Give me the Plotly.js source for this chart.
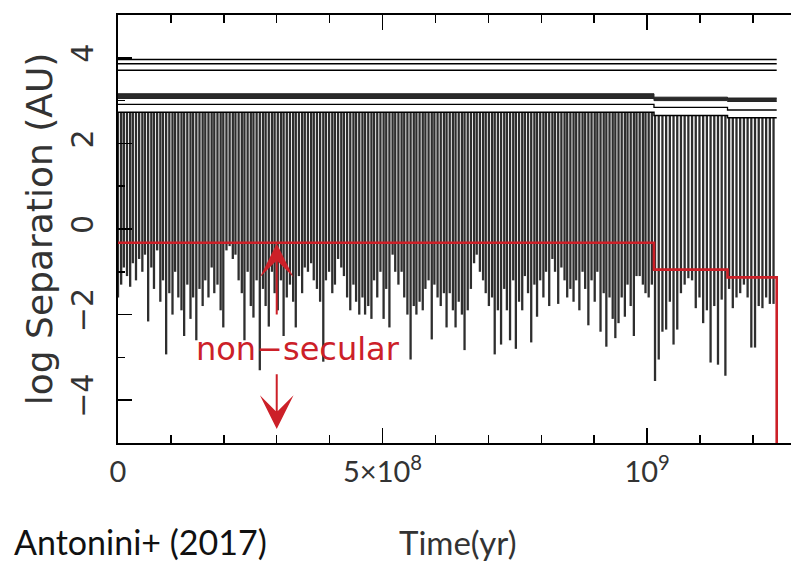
<!DOCTYPE html>
<html>
<head>
<meta charset="utf-8">
<script src="https://cdn.plot.ly/plotly-3.0.1.min.js"></script>
<style>html,body{margin:0;padding:0;background:#fff;}#chart{width:791px;height:564px;}</style>
</head>
<body>
<div id="chart"></div>
<script>
// ---- data (times in Myr, separations in log AU) ----
const spikeTimesMyr = [
0,6,11,17,23,28,34,40,46,51,57,63,68,74,80,85,91,97,103,108,
114,120,125,131,137,142,148,154,160,165,171,177,182,188,194,199,205,211,217,222,
228,234,239,245,251,256,262,268,274,279,285,291,296,302,308,313,319,325,331,336,
342,348,353,359,365,370,376,382,388,393,399,405,410,416,422,427,433,439,445,450,
456,462,467,473,479,484,490,496,502,507,513,519,524,530,536,541,547,553,559,564,
570,576,581,587,593,598,604,610,616,621,627,633,638,644,650,655,661,667,673,678,
684,690,695,701,707,712,718,724,730,735,741,747,752,758,764,769,775,781,787,792,
798,804,809,815,821,826,832,838,844,849,855,861,866,872,878,883,889,895,901,906,
912,918,923,929,935,940,946,952,958,963,969,975,980,986,992,997,1003,1009,
1015,1022,1029,1036,1043,1050,1057,1064,1071,1078,1085,1092,1099,1106,1113,1120,1127,1134,1141,1148,
1155,1162,1169,1176,1183,1190,1197,1204,1211,1218,1225,1232,1239
];
const spikeMin = [
-1.6,-1.3,-0.9,-1.1,-1.35,-0.8,-1.2,-0.7,-1.0,-0.6,-2.16,-0.9,-1.4,-0.5,-1.7,-1.2,-2.93,-1.5,-2.0,-1.0,
-1.6,-1.9,-2.5,-1.3,-2.1,-1.6,-2.6,-1.4,-1.8,-1.2,-1.6,-0.9,-1.5,-1.3,-1.9,-2.3,-0.5,-0.4,-0.7,-0.6,
-1.2,-1.5,-2.6,-1.0,-1.8,-2.07,-1.2,-3.3,-1.4,-1.8,-2.28,-1.0,-1.5,-1.9,-1.2,-2.5,-1.6,-1.3,-1.7,-2.3,
-1.1,-1.5,-0.9,-1.0,-0.8,-1.2,-1.4,-1.7,-3.1,-1.2,-1.0,-1.5,-1.3,-0.7,-0.9,-1.1,-1.6,-1.9,-1.3,-1.7,
-2.0,-1.6,-2.0,-1.8,-2.1,-1.2,-1.6,-1.0,-2.1,-1.4,-2.3,-0.6,-1.0,-1.3,-1.0,-1.6,-2.0,-3.05,-1.8,-2.0,
-1.7,-1.9,-1.4,-1.2,-2.58,-1.3,-1.6,-1.8,-1.5,-2.3,-1.5,-1.9,-2.3,-1.7,-2.0,-2.83,-1.9,-1.4,-0.8,-0.6,
-1.0,-1.2,-1.5,-1.8,-1.6,-2.93,-1.9,-2.7,-1.4,-1.9,-2.6,-1.2,-2.8,-1.7,-1.9,-1.1,-1.5,-2.65,-1.3,-2.05,
-1.2,-1.6,-1.0,-1.8,-0.7,-1.0,-1.75,-0.9,-1.2,-1.6,-1.4,-1.7,-1.2,-1.9,-1.0,-1.4,-2.25,-1.2,-1.7,-1.0,
-2.4,-1.5,-2.75,-1.6,-2.1,-2.55,-2.2,-1.6,-2.05,-1.3,-1.8,-2.5,-1.1,-1.1,-1.3,-1.5,-1.6,-1.3,
-3.55,-3.05,-2.4,-2.35,-1.7,-2.7,-2.35,-1.5,-1.3,-1.15,-1.2,-1.85,-1.6,-2.2,-1.9,-3.12,-1.8,-3.17,-1.65,-3.43,
-1.4,-1.85,-1.6,-1.5,-1.3,-1.6,-2.77,-2.77,-1.8,-1.85,-1.6,-1.75,-1.75
];
// phase boundaries (Myr) and per-phase levels
const phaseTimesMyr = [0, 1013, 1152, 1245];
const innerApo      = [2.73, 2.65, 2.60, 2.60];
const outerLine     = [2.91, 2.84, 2.78, 2.78];
const outerBandTop  = [3.16, 3.08, 3.06, 3.06];
const outerBandBot  = [3.05, 3.00, 2.98, 2.98];
const farLevels     = [3.96, 3.86, 3.71];
const farEndMyr     = 1245;
// non-secular threshold (red step)
const limitTimesMyr = [0, 1013, 1152, 1245, 1245];
const limitY        = [-0.32, -0.95, -1.13, -1.13, -5];
// tick labels
const xTickVals = [0, 5e8, 1e9];
const xTickText = ['0', '5×10<sup>8</sup>', '10<sup>9</sup>'];
const yTickVals = [-4, -2, 0, 2, 4];
const yTickText = ['−4', '−2', '0', '2', '4'];

const MYR = 1e6;
function topAt(t) {
  let v = innerApo[0];
  for (let i = 0; i < phaseTimesMyr.length; i++) if (t >= phaseTimesMyr[i]) v = innerApo[i];
  return v;
}
const sx = [], sy = [];
spikeTimesMyr.forEach((t, i) => {
  sx.push(t * MYR, t * MYR, null);
  sy.push(topAt(t), spikeMin[i], null);
});
const px = phaseTimesMyr.map(t => t * MYR);

const traces = [
  {x: sx, y: sy, mode: 'lines', line: {color: '#2e2e2e', width: 2.3}, hoverinfo: 'skip', connectgaps: false},
  {x: px, y: innerApo, mode: 'lines', line: {color: '#000', width: 1.5, shape: 'hv'}},
  {x: px, y: outerLine, mode: 'lines', line: {color: '#000', width: 1.3, shape: 'hv'}},
  {x: px, y: outerBandBot, mode: 'lines', line: {color: '#222', width: 1, shape: 'hv'}},
  {x: px, y: outerBandTop, mode: 'lines', fill: 'tonexty', fillcolor: '#2a2a2a', line: {color: '#222', width: 1, shape: 'hv'}},
];
farLevels.forEach(v => traces.push({x: [0, farEndMyr * MYR], y: [v, v], mode: 'lines', line: {color: '#000', width: 1.4}}));
traces.push({x: limitTimesMyr.map(t => t * MYR), y: limitY, mode: 'lines',
  line: {color: '#cc2028', width: 2.6, shape: 'hv'}});

const red = '#cc2028';
const layout = {
  width: 791, height: 564,
  margin: {l: 118, r: 0, t: 15, b: 121},
  paper_bgcolor: '#fff', plot_bgcolor: '#fff',
  showlegend: false,
  xaxis: {
    range: [0, 1.272e9], showgrid: false, zeroline: false,
    showline: true, linecolor: '#000', linewidth: 2, mirror: 'allticks',
    ticks: 'inside', ticklen: 15, tickwidth: 1.5, tickcolor: '#000',
    tickmode: 'array', tickvals: xTickVals, ticktext: xTickText,
    tickfont: {family: 'Lato, sans-serif', size: 29, color: '#333'},
    ticklabelstandoff: 2,
    minor: {tickmode: 'linear', tick0: 0, dtick: 1e8, ticks: 'inside', ticklen: 8, tickwidth: 1.5, tickcolor: '#000', showgrid: false}
  },
  yaxis: {
    range: [-5, 5], showgrid: false, zeroline: false,
    showline: true, linecolor: '#000', linewidth: 2, mirror: false,
    ticks: 'inside', ticklen: 14, tickwidth: 1.5, tickcolor: '#000',
    tickmode: 'array', tickvals: yTickVals, ticktext: yTickText, tickangle: -90,
    tickfont: {family: 'DejaVu Sans, sans-serif', size: 30, color: '#333'},
    ticklabelstandoff: 11,
    minor: {tickmode: 'linear', tick0: 0, dtick: 1, ticks: 'inside', ticklen: 7, tickwidth: 1.5, tickcolor: '#000', showgrid: false}
  },
  yaxis2: {
    overlaying: 'y', side: 'right', range: [-5, 5], showgrid: false, zeroline: false,
    showline: false, ticks: 'inside', ticklen: 4, tickwidth: 1.5, tickcolor: '#000',
    tickmode: 'array', tickvals: yTickVals, showticklabels: false
  },
  annotations: [
    {xref: 'paper', yref: 'paper', x: -0.117, y: 0.5, text: 'log Separation (AU)', textangle: -90,
     showarrow: false, font: {family: 'DejaVu Sans, sans-serif', size: 36, color: '#333'}, xanchor: 'center', yanchor: 'middle'},
    {xref: 'paper', yref: 'paper', x: -0.158, y: -0.231, text: 'Antonini+ (2017)', showarrow: false,
     xanchor: 'left', yanchor: 'middle', font: {family: 'Lato, sans-serif', size: 34, color: '#111'}},
    {xref: 'paper', yref: 'paper', x: 0.505, y: -0.231, text: 'Time(yr)', showarrow: false,
     xanchor: 'center', yanchor: 'middle', font: {family: 'Lato, sans-serif', size: 33, color: '#333'}},
    {x: 3.4e8, y: -2.8, xref: 'x', yref: 'y', text: 'non−secular', showarrow: false,
     font: {family: 'DejaVu Sans, sans-serif', size: 32, color: red}, xanchor: 'center', yanchor: 'middle'},
    {x: 3.0e8, y: -0.34, xref: 'x', yref: 'y', ax: 3.0e8, ay: -2.23, axref: 'x', ayref: 'y', text: ' ',
     showarrow: true, arrowhead: 3, arrowsize: 2.8, arrowwidth: 2, arrowcolor: red},
    {x: 3.0e8, y: -4.67, xref: 'x', yref: 'y', ax: 3.0e8, ay: -3.16, axref: 'x', ayref: 'y', text: ' ',
     showarrow: true, arrowhead: 3, arrowsize: 2.8, arrowwidth: 2, arrowcolor: red}
  ]
};
Plotly.newPlot('chart', traces, layout, {staticPlot: true, displayModeBar: false});
</script>
</body>
</html>
